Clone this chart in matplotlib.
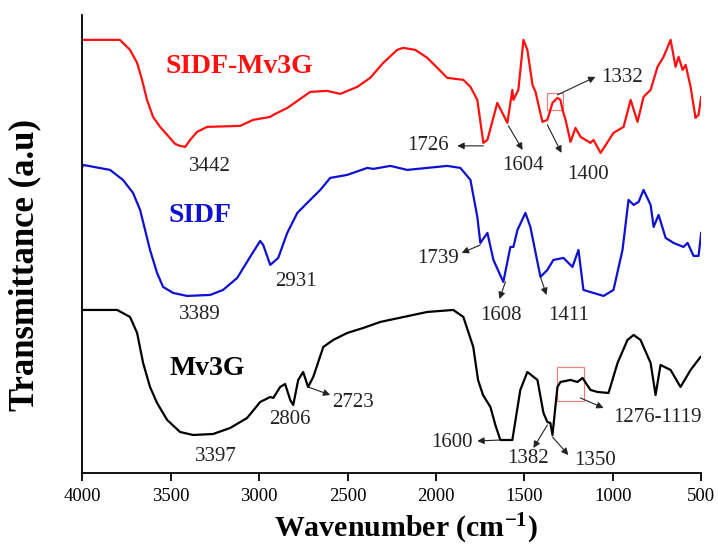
import matplotlib
matplotlib.use("Agg")
from matplotlib import pyplot as plt
from matplotlib.patches import Rectangle

plt.rcParams['font.family'] = ['Liberation Serif', 'DejaVu Serif']
plt.rcParams['mathtext.fontset'] = 'custom'
plt.rcParams['mathtext.rm'] = 'Liberation Serif:bold'
plt.rcParams['mathtext.default'] = 'rm'

# spectre SIDF-Mv3G (rouge)
wn_red = [4000, 3843, 3787, 3730, 3690, 3662, 3634, 3600, 3560, 3520, 3475, 3447,
          3418, 3390, 3351, 3294, 3107, 3034, 2937, 2920, 2840, 2711, 2615, 2541,
          2445, 2372, 2298, 2219, 2185, 2117, 2049, 1992, 1936, 1845, 1805, 1766,
          1732, 1709, 1653, 1596, 1568, 1562, 1534, 1505, 1483, 1454, 1437, 1398,
          1370, 1341, 1313, 1296, 1284, 1267, 1239, 1211, 1182, 1126, 1109, 1069,
          996, 939, 899, 860, 826, 786, 747, 713, 673, 645, 628, 605, 588, 560,
          532, 515, 500]
t_red = [433, 433, 433, 423, 410, 393, 373, 356, 346, 338, 329, 327,
         326, 333, 341, 346, 347, 353, 356, 358, 365, 381, 382, 379,
         386, 395, 410, 423, 425, 423, 415, 405, 395, 393, 386, 373,
         330, 333, 370, 350, 383, 373, 383, 433, 423, 388, 381, 351,
         353, 370, 375, 373, 363, 353, 331, 345, 336, 330, 333, 320,
         340, 346, 373, 351, 376, 383, 406, 416, 433, 406, 416, 403, 408, 386,
         355, 358, 376]

# spectre SIDF (bleu)
wn_blue = [4000, 3996, 3843, 3770, 3713, 3673, 3645, 3617, 3577, 3543, 3486, 3407,
           3277, 3204, 3124, 3051, 2994, 2977, 2937, 2892, 2841, 2784, 2728, 2654,
           2598, 2502, 2388, 2354, 2258, 2162, 1936, 1862, 1805, 1766, 1749, 1709,
           1675, 1619, 1579, 1562, 1539, 1494, 1466, 1409, 1370, 1336, 1279, 1228,
           1194, 1166, 1109, 1052, 996, 945, 911, 882, 854, 826, 786, 769, 741,
           701, 656, 600, 577, 543, 515, 500]
t_blue = [306, 308, 303, 293, 280, 263, 243, 223, 200, 186, 180, 177,
          178, 183, 195, 216, 232, 228, 208, 215, 240, 260, 270, 283,
          295, 298, 305, 304, 307, 303, 307, 305, 293, 256, 230, 240,
          213, 191, 226, 226, 243, 260, 246, 196, 203, 213, 215, 206,
          223, 183, 180, 177, 183, 223, 273, 268, 271, 283, 268, 246, 258,
          235, 230, 226, 230, 217, 217, 240]

# spectre Mv3G (noir)
wn_black = [4000, 3803, 3730, 3690, 3656, 3617, 3577, 3520, 3447, 3373, 3260, 3164,
            3068, 2994, 2937, 2920, 2881, 2853, 2824, 2807, 2779, 2751, 2723, 2694,
            2637, 2581, 2502, 2411, 2315, 2049, 1902, 1845, 1789, 1762, 1734, 1692,
            1664, 1636, 1568, 1523, 1483, 1426, 1392, 1370, 1353, 1341, 1313, 1296,
            1239, 1200, 1171, 1126, 1086, 1024, 973, 917, 882, 843, 786, 758, 730,
            673, 617, 560, 504]
t_black = [163, 163, 156, 140, 110, 86, 70, 53, 41, 38, 39, 45,
           55, 71, 76, 75, 86, 89, 73, 68, 93, 101, 86, 96,
           126, 133, 140, 145, 151, 161, 163, 156, 126, 93, 78, 66,
           48, 33, 33, 83, 101, 93, 60, 51, 50, 38, 86, 91,
           93, 91, 95, 83, 81, 80, 110, 133, 138, 133, 110, 78, 108,
           103, 86, 103, 116]

xticks = [4000, 3500, 3000, 2500, 2000, 1500, 1000, 500]

fig = plt.figure(figsize=(7.18, 5.52), dpi=100)
ax = fig.add_axes([0.1146, 0.1431, 0.862, 0.830])

ax.plot(wn_red, t_red, color='#ff1010', lw=1.6, solid_joinstyle='round')
ax.plot(wn_blue, t_blue, color='#1010d0', lw=1.6, solid_joinstyle='round')
ax.plot(wn_black, t_black, color='black', lw=1.6, solid_joinstyle='round')

ax.set_xlim(4000, 500)
ax.set_ylim(0, 458)
ax.set_xticks(xticks)
ax.set_yticks([])
ax.tick_params(axis='x', direction='out', length=6, width=1.3, labelsize=13.5, pad=5)
for s in ['top', 'right']:
    ax.spines[s].set_visible(False)
for s in ['left', 'bottom']:
    ax.spines[s].set_linewidth(1.3)

ax.set_xlabel('Wavenumber (cm$^{-1}$)', fontsize=21.5, fontweight='bold')
ax.set_ylabel('Transmittance (a.u)', fontsize=25, fontweight='bold')
ax.xaxis.set_label_coords(0.523, -0.085)
ax.yaxis.set_label_coords(-0.066, 0.454)

ax.text(3113, 406, 'SIDF-Mv3G', color='#ff1010', fontsize=20, fontweight='bold', ha='center', va='center')
ax.text(3334, 257, 'SIDF', color='#1010d0', fontsize=20, fontweight='bold', ha='center', va='center')
ax.text(3294, 104, 'Mv3G', color='black', fontsize=20, fontweight='bold', ha='center', va='center')

# pics sans fleche
for lab, x, y in [('3442', 3277, 306), ('2931', 2791, 191), ('3389', 3334, 158),
                  ('3397', 3243, 17), ('2806', 2824, 53)]:
    ax.text(x, y, lab, fontsize=15, color='#222222', ha='center', va='center')

# pics avec fleche : (texte, position texte, depart, pointe)
arrows = [('2723', (2467, 70), (2723, 86), (2598, 78)),
          ('1726', (2043, 327), (1732, 327), (1879, 327)),
          ('1604', (1510, 307), (1590, 347), (1510, 323)),
          ('1400', (1143, 298), (1370, 348), (1290, 320)),
          ('1332', (945, 395), (1313, 378), (1098, 396)),
          ('1739', (1986, 214), (1749, 228), (1854, 220)),
          ('1608', (1635, 157), (1607, 191), (1641, 174)),
          ('1411', (1250, 157), (1409, 196), (1375, 178)),
          ('1600', (1907, 30), (1636, 33), (1766, 32)),
          ('1382', (1477, 15), (1370, 48), (1449, 25)),
          ('1350', (1103, 13), (1341, 36), (1251, 18)),
          ('1276-1119', (746, 55), (1183, 75), (1052, 65))]
for lab, pos, start, tip in arrows:
    ax.text(pos[0], pos[1], lab, fontsize=15, color='#222222', ha='center', va='center')
    ax.annotate('', xy=tip, xytext=start,
                arrowprops=dict(arrowstyle='-|>', color='#222222', lw=0.8, mutation_scale=10,
                                shrinkA=0, shrinkB=0))

ax.add_patch(Rectangle((1370, 363), -86, 17, fill=False, edgecolor='#e88080', lw=0.9))
ax.add_patch(Rectangle((1313, 72), -153, 34, fill=False, edgecolor='#e88080', lw=0.9))

plt.savefig('out.png', dpi=100)
